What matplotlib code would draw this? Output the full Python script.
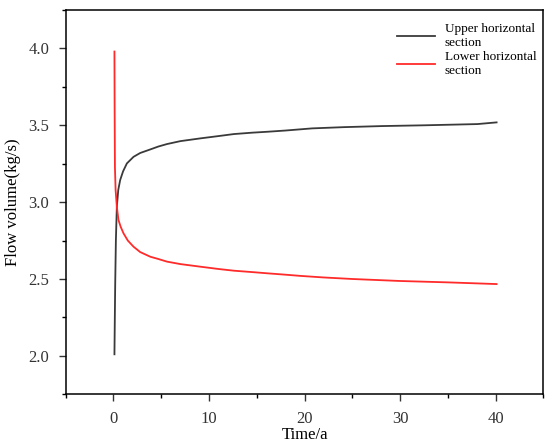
import matplotlib
matplotlib.use("Agg")
import matplotlib.pyplot as plt
from matplotlib.ticker import MultipleLocator

plt.rcParams['font.family'] = ['Liberation Serif', 'DejaVu Serif']

# values
t_upper = [0.1, 0.14, 0.18, 0.25, 0.35, 0.5, 0.7, 1.0, 1.4, 2.1, 2.8, 3.85, 4.7, 5.6,
           7.0, 9.1, 11.0, 12.6, 14.5, 16.1, 18.0, 19.6, 20.8, 24.1, 28.1, 32.5, 38.1, 40.1]
v_upper = [2.01, 2.25, 2.47, 2.75, 2.97, 3.08, 3.144, 3.2, 3.252, 3.295, 3.32, 3.343, 3.362, 3.378,
           3.397, 3.415, 3.43, 3.443, 3.452, 3.458, 3.466, 3.474, 3.48, 3.488, 3.495, 3.50, 3.508, 3.519]

t_lower = [0.1, 0.12, 0.15, 0.22, 0.35, 0.52, 0.75, 1.05, 1.5, 2.1, 2.8, 3.85, 4.7, 5.6,
           7.0, 9.1, 11.0, 12.6, 14.5, 16.1, 18.0, 19.6, 22.0, 25.0, 30.0, 35.0, 40.1]
v_lower = [3.98, 3.6, 3.23, 3.08, 2.97, 2.884, 2.84, 2.797, 2.75, 2.71, 2.675, 2.645, 2.63, 2.613,
           2.597, 2.58, 2.565, 2.554, 2.545, 2.537, 2.528, 2.52, 2.51, 2.50, 2.487, 2.478, 2.467]

fig = plt.figure(figsize=(5.5, 4.46), dpi=100)
ax = fig.add_axes([0.1195, 0.116, 0.8685, 0.8615])

ax.plot(t_upper, v_upper, color='#3a3a3a', lw=1.3, label='Upper horizontal\nsection')
ax.plot(t_lower, v_lower, color='#ff2a2a', lw=1.3, label='Lower horizontal\nsection')

ax.set_xlim(-5, 45)
ax.set_ylim(1.75, 4.25)
ax.xaxis.set_major_locator(MultipleLocator(10))
ax.xaxis.set_minor_locator(MultipleLocator(5))
ax.yaxis.set_major_locator(MultipleLocator(0.5))
ax.yaxis.set_minor_locator(MultipleLocator(0.25))
ax.yaxis.set_major_formatter(plt.FormatStrFormatter('%.1f'))
ax.tick_params(which='major', direction='out', length=5, width=1, labelsize=12,
               colors='#333333', pad=7)
ax.tick_params(which='minor', direction='out', length=3, width=1)
for s in ax.spines.values():
    s.set_linewidth(1.1)

ax.set_xlabel('Time/a', fontsize=12, labelpad=0)
ax.set_ylabel('Flow volume(kg/s)', fontsize=12, labelpad=5)

ax.legend(loc='upper right', frameon=False, fontsize=9.5, handlelength=2.9,
          handletextpad=0.7, labelspacing=0.15, borderaxespad=0.15,
          bbox_to_anchor=(1.0, 0.985))

plt.savefig('out.png', dpi=100)
